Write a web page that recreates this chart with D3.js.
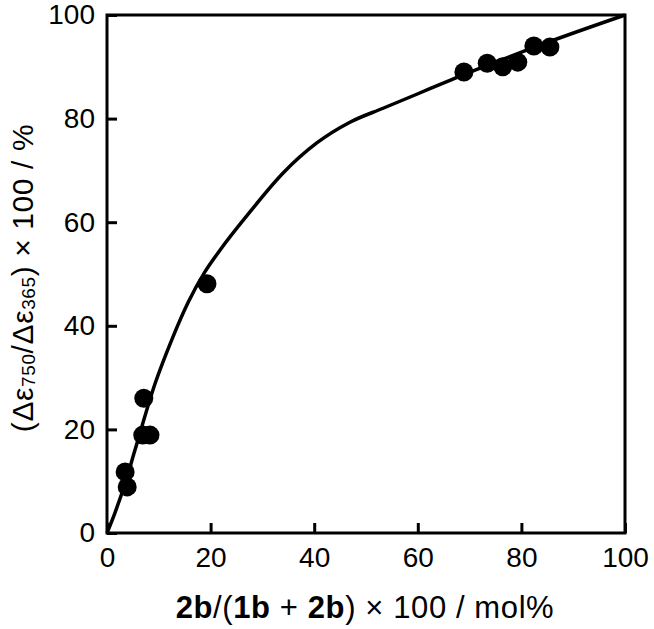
<!doctype html>
<html>
<head>
<meta charset="utf-8">
<script src="https://d3js.org/d3.v7.min.js"></script>
<style>
  body { margin: 0; background: #fff; }
  text { font-family: Arial, "Liberation Sans", sans-serif; fill: #000; }
</style>
</head>
<body>
<svg id="chart" width="654" height="629"></svg>
<script>
// measured points
var ptX = [3.5, 3.9, 7.1, 6.9, 8.3, 19.3, 68.9, 73.4, 76.4, 79.3, 82.4, 85.5];
var ptY = [11.8, 8.9, 26.0, 18.9, 18.9, 48.1, 89.0, 90.7, 90.0, 90.9, 94.0, 93.8];

// fitted curve
var curveX = [0, 1.5, 3.5, 5.4, 9.3, 12.5, 15.7, 18.9, 21.8, 27.6, 34.0, 40.5, 46.9, 53.3, 59.8, 66.2, 75, 85, 100];
var curveY = [0, 3.8, 9.6, 16.0, 28.9, 37.3, 44.6, 50.4, 54.6, 62.0, 69.5, 75.3, 79.3, 82.0, 84.7, 87.4, 90.9, 94.7, 100];

var xTicks = [0, 20, 40, 60, 80, 100];
var yTicks = [0, 20, 40, 60, 80, 100];

var pLeft = 107, pRight = 625, pTop = 15, pBottom = 533;
var svg = d3.select('#chart');

var x = d3.scaleLinear().domain([0, 100]).range([pLeft, pRight]);
var y = d3.scaleLinear().domain([0, 100]).range([pBottom, pTop]);

// ticks (inward)
var xAxis = d3.axisBottom(x).tickValues(xTicks).tickSizeInner(-10).tickSizeOuter(0).tickPadding(14);
var yAxis = d3.axisLeft(y).tickValues(yTicks).tickSizeInner(-10).tickSizeOuter(0).tickPadding(12);

var gx = svg.append('g').attr('transform', 'translate(0,' + pBottom + ')').call(xAxis);
var gy = svg.append('g').attr('transform', 'translate(' + pLeft + ',0)').call(yAxis);
[gx, gy].forEach(function(g) {
  g.select('.domain').remove();
  g.selectAll('line').attr('stroke', '#000').attr('stroke-width', 3);
  g.selectAll('text').attr('font-size', 28).attr('font-family', 'Arial, "Liberation Sans", sans-serif').attr('fill', '#000');
});

// frame
svg.append('rect')
  .attr('x', pLeft).attr('y', pTop)
  .attr('width', pRight - pLeft).attr('height', pBottom - pTop)
  .attr('fill', 'none').attr('stroke', '#000').attr('stroke-width', 3);

// curve
var curveData = curveX.map(function(d, i) { return [d, curveY[i]]; });
svg.append('path')
  .datum(curveData)
  .attr('fill', 'none').attr('stroke', '#000').attr('stroke-width', 3.5)
  .attr('d', d3.line().x(function(d) { return x(d[0]); }).y(function(d) { return y(d[1]); }).curve(d3.curveMonotoneX));

// points
var pts = ptX.map(function(d, i) { return [d, ptY[i]]; });
svg.selectAll('circle.pt').data(pts).enter()
  .append('circle').attr('class', 'pt')
  .attr('cx', function(d) { return x(d[0]); })
  .attr('cy', function(d) { return y(d[1]); })
  .attr('r', 9.5).attr('fill', '#000');

// x title
var xt = svg.append('text').attr('x', 365).attr('y', 618)
  .attr('text-anchor', 'middle').attr('font-size', 31).attr('letter-spacing', 0.6);
xt.append('tspan').attr('font-weight', 'bold').text('2b');
xt.append('tspan').text('/(');
xt.append('tspan').attr('font-weight', 'bold').text('1b');
xt.append('tspan').text(' + ');
xt.append('tspan').attr('font-weight', 'bold').text('2b');
xt.append('tspan').text(') × 100 / mol%');

// y title
var yt = svg.append('text')
  .attr('transform', 'translate(33,278) rotate(-90)')
  .attr('text-anchor', 'middle').attr('font-size', 30).attr('letter-spacing', 0.6);
yt.append('tspan').text('(Δε');
yt.append('tspan').attr('font-size', 19).attr('dy', 2).text('750');
yt.append('tspan').attr('dy', -2).text('/Δε');
yt.append('tspan').attr('font-size', 19).attr('dy', 2).text('365');
yt.append('tspan').attr('dy', -2).text(') × 100 / %');
</script>
</body>
</html>
